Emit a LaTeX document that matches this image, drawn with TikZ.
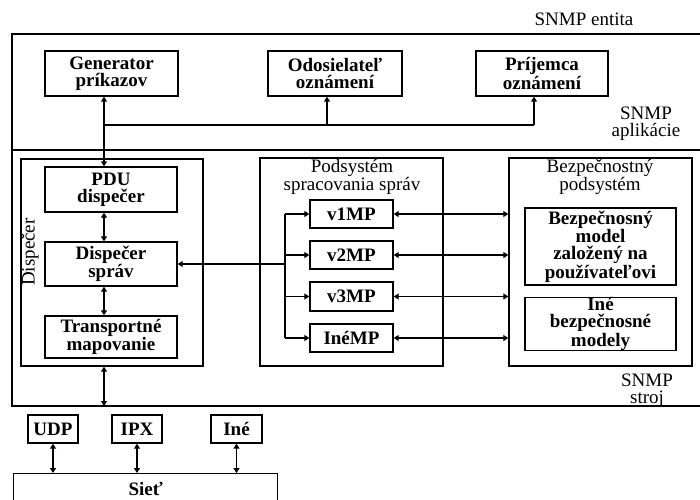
\documentclass[tikz,border=0pt]{standalone}
\usepackage{fontspec}
\setmainfont{Liberation Serif}
\usetikzlibrary{arrows.meta,calc}
\begin{document}
\begin{tikzpicture}[x=1pt,y=-1pt,
  >={Triangle[length=5pt,width=6pt]},
  box/.style={draw, line width=1.4pt, inner sep=0pt, align=center,
    font=\bfseries\fontsize{19}{17}\selectfont},
  frame/.style={draw, line width=1.4pt, inner sep=0pt},
  lbl/.style={inner sep=0pt, align=center, font=\fontsize{19}{17}\selectfont},
  onearrow/.style={->, line width=1.6pt},
  twoway/.style={<->, line width=1.6pt},
  busline/.style={line width=2.8pt},
  branch/.style={line width=2.3pt},
  entity/.style={line width=1.3pt}]
\useasboundingbox (0,0) rectangle (700,499);
\clip (0,0) rectangle (700,499);

% SNMP entity frame (open to the right)
\draw[entity] (712,34) -- (12,34) -- (12,406) -- (712,406);
\draw[entity] (12,150) -- (712,150);
\node[lbl] (entlbl) at (584,19) {SNMP entita};
\node[lbl] (applbl) at (646,124) {SNMP\\aplikácie};
\node[lbl] (englbl) at (647,391) {SNMP\\stroj};

% helper columns
\coordinate (xa) at (104,0);
\coordinate (xodo) at (327,0);
\coordinate (xpri) at (534,0);
\coordinate (busy) at (0,125);
\coordinate (bx) at (285,0);
\coordinate (ebot) at (104,406);

% applications
\node[box, minimum width=133pt, minimum height=45pt] (gen) at (111.5,73.5) {Generator\\príkazov};
\node[box, minimum width=134pt, minimum height=45pt] (odo) at (335,73.5) {Odosielateľ\\oznámení};
\node[box, minimum width=132pt, minimum height=45pt] (pri) at (542,73.5) {Príjemca\\oznámení};

% dispatcher
\node[frame, minimum width=182pt, minimum height=207pt] (disp) at (112,262.5) {};
\node[lbl, rotate=90] (displbl) at (30,252) {Dispečer};
\node[box, minimum width=132pt, minimum height=45pt] (pdu) at (111,189.5) {PDU\\dispečer};
\node[box, minimum width=132pt, minimum height=44pt] (dspr) at (111,264) {Dispečer\\správ};
\node[box, minimum width=132pt, minimum height=42pt] (trans) at (111,337) {Transportné\\mapovanie};

% message processing subsystem
\node[frame, minimum width=183pt, minimum height=208pt] (mps) at (351.5,262) {};
\node[lbl] (mpslbl) at (352,177) {Podsystém\\spracovania správ};
\node[box, minimum width=83pt, minimum height=28pt] (v1) at (351.5,214) {v1MP};
\node[box, minimum width=83pt, minimum height=28pt] (v2) at (351.5,255) {v2MP};
\node[box, minimum width=83pt, minimum height=29pt] (v3) at (351.5,296.5) {v3MP};
\node[box, minimum width=83pt, minimum height=28pt] (inemp) at (351.5,338) {InéMP};

% security subsystem
\node[frame, minimum width=183pt, minimum height=208pt] (sec) at (600.5,262) {};
\node[lbl] (seclbl) at (600,177) {Bezpečnostný\\podsystém};
\node[box, minimum width=151pt, minimum height=77pt] (usm) at (600.5,246.5) {Bezpečnosný\\model\\založený na\\používateľovi};
\node[box, minimum width=151pt, minimum height=50pt] (othsec) at (600.5,324) {Iné\\bezpečnosné\\modely};

% transports and network
\node[box, minimum width=50pt, minimum height=28pt] (udp) at (53,429) {UDP};
\node[box, minimum width=50pt, minimum height=28pt] (ipx) at (137,429) {IPX};
\node[box, minimum width=51pt, minimum height=28pt] (ine) at (236.5,429) {Iné};
\node[box, minimum width=264pt, minimum height=30pt, anchor=north west] (siet) at (13,473) {Sieť};

% application bus
\draw[twoway] (pdu.north -| xa) -- (gen.south -| xa);
\draw[busline] (xa |- busy) -- (xpri |- busy);
\draw[onearrow, line width=2pt] (xpri |- busy) -- (pri.south -| xpri);
\draw[onearrow, line width=2pt] (xodo |- busy) -- (odo.south -| xodo);

% dispatcher internals
\draw[twoway] (pdu.south -| xa) -- (dspr.north -| xa);
\draw[twoway] (dspr.south -| xa) -- (trans.north -| xa);
\draw[twoway] (disp.south -| xa) -- (ebot);

% dispatcher to message processing models
\draw[branch] (bx |- v1.west) -- (bx |- inemp.west);
\draw[onearrow] (bx |- dspr.east) -- (dspr.east);
\foreach \m in {v1,v2,v3,inemp} {
  \draw[onearrow] (bx |- \m.west) -- (\m.west);
  \draw[twoway] (\m.east) -- (\m.east -| sec.west);
}

% transports to network
\foreach \t in {udp,ipx,ine} {
  \draw[twoway] (\t.south) -- (\t.south |- siet.north);
}
\end{tikzpicture}
\end{document}
